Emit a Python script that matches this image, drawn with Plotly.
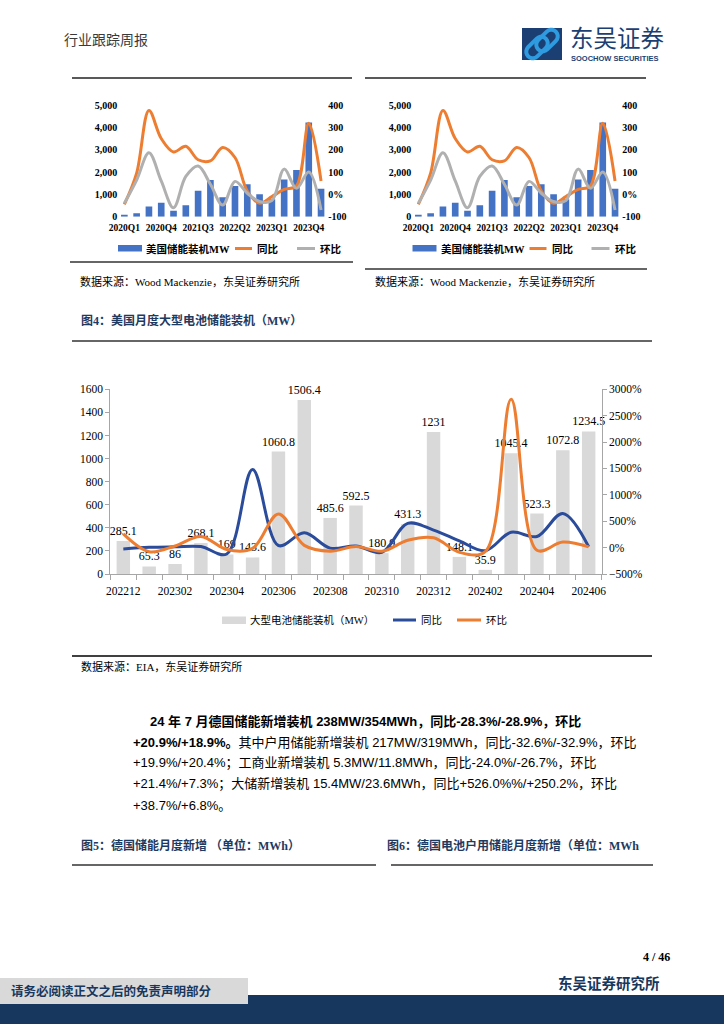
import math
import plotly.graph_objects as go

# ---------------- data ----------------
quarters = ["2020Q1", "2020Q2", "2020Q3", "2020Q4", "2021Q1", "2021Q2", "2021Q3", "2021Q4",
            "2022Q1", "2022Q2", "2022Q3", "2022Q4", "2023Q1", "2023Q2", "2023Q3", "2023Q4", "2024Q1"]
us_mw = [90, 150, 460, 630, 270, 510, 1160, 1640, 870, 1370, 1450, 1010, 780, 1670, 2090, 4220, 1250]
us_yoy = [-45, 95, 375, 250, 190, 215, 155, 150, 210, 165, 15, -40, -10, 22, 38, 318, 60]
us_qoq = [-40, 64, 186, 60, -60, 80, 127, 45, -48, 58, 5, -32, -28, 113, 27, 100, -70]
quarter_label_step = 3

months = ["202212", "202301", "202302", "202303", "202304", "202305", "202306", "202307",
          "202308", "202309", "202310", "202311", "202312", "202401", "202402", "202403",
          "202404", "202405", "202406"]
large_mw = [285.1, 65.3, 86, 268.1, 169, 143.6, 1060.8, 1506.4, 485.6, 592.5, 180.9,
            431.3, 1231, 148.1, 35.9, 1045.4, 523.3, 1072.8, 1234.5]
large_yoy = [-25, 5, 15, 20, -120, 1480, 40, 280, -10, 30, -90, 460, 332, 127, -58,
             290, 210, 647, 16]
large_mom = [260, -77.1, 31.7, 211.7, -37.0, -15.0, 638.7, 42.0, -67.8, 22.0, -69.5,
             138.4, 185.4, -88.0, -75.8, 2812.0, -49.9, 105.0, 15.1]
month_label_step = 2

# ---------------- helpers ----------------
W, H = 724, 1024


def px(x):
    return x / W


def py(y):
    return 1 - y / H


SERIF = "Liberation Serif, Times New Roman, Noto Sans CJK SC, serif"
CJK_SERIF = "Liberation Serif, Noto Sans CJK SC, serif"
SANS = "Liberation Sans, Arial, Noto Sans CJK SC, sans-serif"
NAVY = "#1f3a60"

fig = go.Figure()

qx = list(range(len(quarters)))
mx = list(range(len(months)))

# top-left and top-right quarterly charts (same content)
for xa, ya, ya2 in (("x", "y", "y2"), ("x2", "y3", "y4")):
    fig.add_trace(go.Bar(x=qx, y=us_mw, marker_color="#4472C4", width=0.54,
                         xaxis=xa, yaxis=ya, showlegend=False))
    fig.add_trace(go.Scatter(x=qx, y=us_yoy, mode="lines",
                             line=dict(color="#ED7D31", width=3, shape="spline", smoothing=1),
                             xaxis=xa, yaxis=ya2, showlegend=False))
    fig.add_trace(go.Scatter(x=qx, y=us_qoq, mode="lines",
                             line=dict(color="#B0B0B0", width=3, shape="spline", smoothing=1),
                             xaxis=xa, yaxis=ya2, showlegend=False))

# main chart
fig.add_trace(go.Bar(x=mx, y=large_mw, marker_color="#D9D9D9", width=0.52,
                     text=[f"{v:g}" for v in large_mw], textposition="outside",
                     constraintext="none", cliponaxis=False,
                     textfont=dict(family=SERIF, size=12, color="#000"),
                     xaxis="x3", yaxis="y5", showlegend=False))
fig.add_trace(go.Scatter(x=mx, y=large_yoy, mode="lines",
                         line=dict(color="#2B4C9B", width=3, shape="spline", smoothing=1),
                         xaxis="x3", yaxis="y6", showlegend=False))
fig.add_trace(go.Scatter(x=mx, y=large_mom, mode="lines",
                         line=dict(color="#ED7D31", width=3, shape="spline", smoothing=1),
                         xaxis="x3", yaxis="y6", showlegend=False))

qtick = list(range(0, len(quarters), quarter_label_step))
mtick = list(range(0, len(months), month_label_step))
bold_x = dict(family=SERIF, size=9.5, color="#000", weight="bold")
bold_y = dict(family=SERIF, size=10, color="#000", weight="bold")
pct_vals = [-100, 0, 100, 200, 300, 400]
pct_text = ["-100", "0%", "100", "200", "300", "400"]


def top_axes(xdom):
    xa = dict(domain=[px(xdom[0]), px(xdom[1])], range=[-0.5, len(quarters) - 0.5],
              tickvals=qtick, ticktext=[quarters[i] for i in qtick], tickfont=bold_x,
              showline=False, ticks="", ticklabelstandoff=4,
              showgrid=False, zeroline=False, automargin=False)
    return xa


common_y = dict(showgrid=False, zeroline=False, automargin=False, showline=False, ticks="")
top_ydom = [py(216.7), py(105)]

layout_axes = dict(
    xaxis=dict(top_axes((118.2, 327.2)), anchor="y"),
    yaxis=dict(common_y, domain=top_ydom, anchor="x", range=[0, 5000], dtick=1000,
               tickformat=",", tickfont=bold_y),
    yaxis2=dict(common_y, overlaying="y", side="right", anchor="x", range=[-100, 400],
                tickvals=pct_vals, ticktext=pct_text, tickfont=bold_y),
    xaxis2=dict(top_axes((412.2, 621.2)), anchor="y3"),
    yaxis3=dict(common_y, domain=top_ydom, anchor="x2", range=[0, 5000], dtick=1000,
                tickformat=",", tickfont=bold_y),
    yaxis4=dict(common_y, overlaying="y3", side="right", anchor="x2", range=[-100, 400],
                tickvals=pct_vals, ticktext=pct_text, tickfont=bold_y),
    xaxis3=dict(domain=[px(110.4), px(601.6)], anchor="y5", range=[-0.5, len(months) - 0.5],
                tickvals=mtick, ticktext=[months[i] for i in mtick],
                tickfont=dict(family=SERIF, size=11.5, color="#000"),
                showline=True, linecolor="#A6A6A6", linewidth=1, ticks="",
                ticklabelstandoff=6,
                minor=dict(tickvals=[i - 0.5 for i in range(len(months) + 1)], ticks="outside",
                           ticklen=5, tickcolor="#A6A6A6"),
                showgrid=False, zeroline=False, automargin=False),
    yaxis5=dict(domain=[py(574), py(389.3)], anchor="x3", range=[0, 1600], dtick=200,
                tickfont=dict(family=SERIF, size=11.5, color="#000"),
                showline=True, linecolor="#A6A6A6", ticks="outside", ticklen=4,
                tickcolor="#A6A6A6", showgrid=False, zeroline=False, automargin=False),
    yaxis6=dict(overlaying="y5", side="right", anchor="x3", range=[-500, 3000], dtick=500,
                ticksuffix="%", tickfont=dict(family=SERIF, size=11.5, color="#000"),
                showline=True, linecolor="#A6A6A6", ticks="outside", ticklen=4,
                tickcolor="#A6A6A6", showgrid=False, zeroline=False, automargin=False),
)

shapes = []
annotations = []


def hline(x0, x1, y, color="#333333", width=1.5):
    shapes.append(dict(type="line", xref="paper", yref="paper", x0=px(x0), x1=px(x1),
                       y0=py(y), y1=py(y), line=dict(color=color, width=width)))


def rect(x0, x1, y0, y1, color, layer="above"):
    shapes.append(dict(type="rect", xref="paper", yref="paper", x0=px(x0), x1=px(x1),
                       y0=py(y1), y1=py(y0), fillcolor=color, line=dict(width=0), layer=layer))


def text(x, y, s, size, color="#000", family=CJK_SERIF, anchor="left", bold=False):
    annotations.append(dict(x=px(x), y=py(y), xref="paper", yref="paper", text=s,
                            showarrow=False, xanchor=anchor, yanchor="middle",
                            font=dict(family=family, size=size, color=color,
                                      weight="bold" if bold else "normal")))


# header
text(62, 40, "行业跟踪周报", 14, "#3a3a3a")
hline(72, 352, 78, "#222", 1.3)
hline(365, 646, 78, "#222", 1.3)

# logo
rect(522, 562, 28, 60, "#1b3f73")


def stadium(cx, cy, L, r, n=10):
    d = (math.cos(math.radians(45)), -math.sin(math.radians(45)))
    nrm = (0.7071, 0.7071)
    pts = []
    ax, ay = cx + d[0] * L, cy + d[1] * L
    bx, by = cx - d[0] * L, cy - d[1] * L
    base = math.atan2(nrm[1], nrm[0])
    for k in range(n + 1):
        t = base - math.pi * k / n
        pts.append((ax + r * math.cos(t), ay + r * math.sin(t)))
    for k in range(n + 1):
        t = base + math.pi - math.pi * k / n
        pts.append((bx + r * math.cos(t), by + r * math.sin(t)))
    return "M " + " L ".join(f"{px(a):.5f},{py(b):.5f}" for a, b in pts) + " Z"


for (cx, cy) in ((537, 47.5), (547, 40.5)):
    shapes.append(dict(type="path", xref="paper", yref="paper", path=stadium(cx, cy, 6, 6.5),
                       line=dict(color="#2e9ae0", width=4), fillcolor="rgba(0,0,0,0)"))
text(568, 37, "东吴证券", 23.5, "#1b3f73", family="Noto Sans CJK SC")
text(569, 58.5, "SOOCHOW SECURITIES", 7.5, "#1b3f73", family="Liberation Sans", bold=True)

# top chart legends, rules and sources
for dx in (0, 294.5):
    rect(118 + dx, 142 + dx, 245, 251.5, "#4472C4")
    text(144 + dx, 248.5, "美国储能装机MW", 10.5, bold=True)
    hline(235 + dx, 252 + dx, 248.5, "#ED7D31", 3)
    text(255 + dx, 248.5, "同比", 10.5, bold=True)
    hline(297 + dx, 315 + dx, 248.5, "#B0B0B0", 3)
    text(318 + dx, 248.5, "环比", 10.5, bold=True)
hline(70, 353, 262, "#333", 1.5)
hline(365, 647, 269, "#333", 1.5)
text(78, 281, "数据来源：Wood Mackenzie，东吴证券研究所", 11)
text(373, 281, "数据来源：Wood Mackenzie，东吴证券研究所", 11)

# figure 4 title and frame
text(79, 320, "图4：美国月度大型电池储能装机（MW）", 12, NAVY, bold=True)
hline(72, 652, 341, "#333", 1.5)
rect(222, 246, 616.5, 624, "#D9D9D9")
text(248, 620, "大型电池储能装机（MW）", 10.5)
hline(393, 416, 620, "#2B4C9B", 3)
text(419, 620, "同比", 10.5)
hline(457, 481, 620, "#ED7D31", 3)
text(484, 620, "环比", 10.5)
hline(72, 652, 656, "#404040", 2)
text(79, 666, "数据来源：EIA，东吴证券研究所", 11)

# paragraph
para = [
    (148, 721, "<b>24 年 7 月德国储能新增装机 238MW/354MWh，同比-28.3%/-28.9%，环比</b>"),
    (131, 742, "<b>+20.9%/+18.9%。</b>其中户用储能新增装机 217MW/319MWh，同比-32.6%/-32.9%，环比"),
    (131, 763, "+19.9%/+20.4%；工商业新增装机 5.3MW/11.8MWh，同比-24.0%/-26.7%，环比"),
    (131, 784, "+21.4%/+7.3%；大储新增装机 15.4MW/23.6MWh，同比+526.0%%/+250.2%，环比"),
    (131, 805, "+38.7%/+6.8%。"),
]
for x, y, s in para:
    text(x, y, s, 13, "#000", family=SANS)

text(79, 845, "图5：德国储能月度新增 （单位：MWh）", 12, NAVY, bold=True)
text(385, 845, "图6：德国电池户用储能月度新增（单位：MWh", 12, NAVY, bold=True)
hline(72, 376, 865, "#333", 1.5)
hline(391, 653, 865, "#333", 1.5)

# footer
text(672, 957, "4 / 46", 12, "#000", family=SERIF, anchor="right", bold=True)
text(662, 983, "东吴证券研究所", 14.5, "#17375e", anchor="right", bold=True)
rect(0, 724, 995, 1024, "#17375e")
rect(0, 248, 978, 1004, "#D9D9D9")
text(9, 991, "请务必阅读正文之后的免责声明部分", 12.5, "#17375e", bold=True)

fig.update_layout(
    width=W, height=H, margin=dict(l=0, r=0, t=0, b=0, autoexpand=False),
    paper_bgcolor="white", plot_bgcolor="rgba(0,0,0,0)", template="none",
    showlegend=False, bargap=0.48, font=dict(family=SERIF, color="#000"),
    shapes=shapes, annotations=annotations, **layout_axes,
)

fig.write_html("out.html", config={"displayModeBar": False},
               post_script="document.body.style.margin='0';document.body.style.padding='0';")
